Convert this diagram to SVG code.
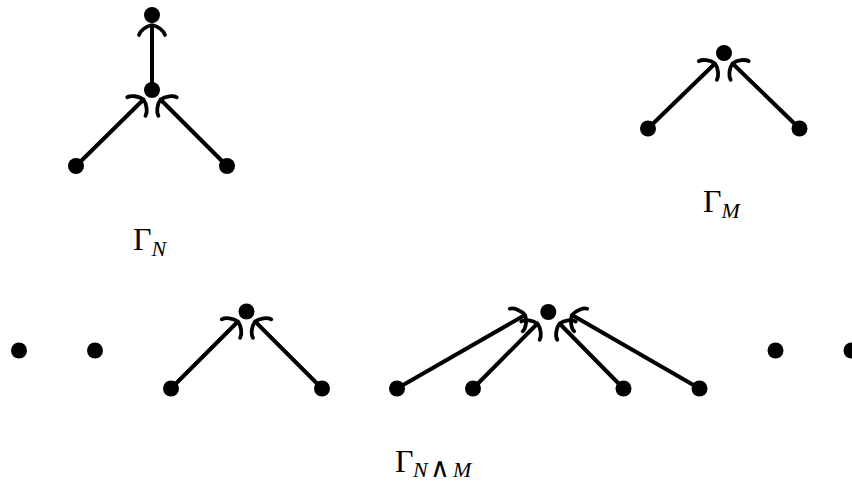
<svg xmlns="http://www.w3.org/2000/svg" width="852" height="483" viewBox="0 0 852 483">
<style>
.dot{fill:#000}
.edge{stroke:#000;stroke-width:4;fill:none;marker-end:url(#to)}
.lbl{font-family:"Liberation Serif","Times New Roman",serif;font-size:32px;fill:#000}
.sub{font-size:22px;font-style:italic}
.op{font-family:"DejaVu Serif",serif;font-size:27px;font-weight:normal;font-style:normal}
</style>
<defs>
<marker id="to" markerUnits="userSpaceOnUse" orient="auto" refX="0" refY="0" markerWidth="30" markerHeight="30" overflow="visible">
<path d="M -10,-13 C -6,-12 -1,-6 0,0 C -1,6 -6,12 -10,13" fill="none" stroke="#000" stroke-width="3.8" stroke-linecap="round"/>
</marker>
</defs>
<rect width="852" height="483" fill="#fff"/>
<g id="connectors">
<line class="edge" x1="152" y1="90" x2="152" y2="25"/>
<line class="edge" x1="76" y1="166" x2="143.5" y2="99.5"/>
<line class="edge" x1="227" y1="166" x2="160.5" y2="99.5"/>
<line class="edge" x1="648" y1="128.5" x2="715" y2="63.5"/>
<line class="edge" x1="799.5" y1="128.5" x2="732.5" y2="63.5"/>
<line class="edge" x1="171" y1="388.5" x2="238" y2="321.5"/>
<line class="edge" x1="322" y1="388.5" x2="255" y2="321.5"/>
<line class="edge" x1="397" y1="388.5" x2="525" y2="315"/>
<line class="edge" x1="473" y1="388.5" x2="537.5" y2="323.5"/>
<line class="edge" x1="623.5" y1="388.5" x2="559.5" y2="323.5"/>
<line class="edge" x1="699.5" y1="388.5" x2="572" y2="315"/>
</g>
<g id="gN-top"><circle class="dot" cx="152" cy="15" r="8"/></g>
<g id="gN-mid"><circle class="dot" cx="152" cy="90" r="8"/></g>
<g id="gN-left"><circle class="dot" cx="76" cy="166" r="8"/></g>
<g id="gN-right"><circle class="dot" cx="227" cy="166" r="8"/></g>
<g id="gM-top"><circle class="dot" cx="724" cy="53" r="8"/></g>
<g id="gM-left"><circle class="dot" cx="648" cy="128.5" r="8"/></g>
<g id="gM-right"><circle class="dot" cx="799.5" cy="128.5" r="8"/></g>
<g id="b-iso1"><circle class="dot" cx="19" cy="350.5" r="8"/></g>
<g id="b-iso2"><circle class="dot" cx="95" cy="350.5" r="8"/></g>
<g id="b1-top"><circle class="dot" cx="246.5" cy="311.5" r="8"/></g>
<g id="b1-left"><circle class="dot" cx="171" cy="388.5" r="8"/></g>
<g id="b1-right"><circle class="dot" cx="322" cy="388.5" r="8"/></g>
<g id="b2-top"><circle class="dot" cx="548.3" cy="312" r="8"/></g>
<g id="b2-s1"><circle class="dot" cx="397" cy="388.5" r="8"/></g>
<g id="b2-s2"><circle class="dot" cx="473" cy="388.5" r="8"/></g>
<g id="b2-s3"><circle class="dot" cx="623.5" cy="388.5" r="8"/></g>
<g id="b2-s4"><circle class="dot" cx="699.5" cy="388.5" r="8"/></g>
<g id="b-iso3"><circle class="dot" cx="775.5" cy="350.5" r="8"/></g>
<g id="b-iso4"><circle class="dot" cx="851.5" cy="350.5" r="8"/></g>
<g id="label-N"><text class="lbl" x="133" y="249.5">Γ<tspan class="sub" dy="6">N</tspan></text></g>
<g id="label-M"><text class="lbl" x="703" y="211.7">Γ<tspan class="sub" dy="6">M</tspan></text></g>
<g id="label-NM"><text class="lbl" x="395" y="471.7">Γ<tspan class="sub" x="413" dy="5">N</tspan><tspan class="op" x="430">∧</tspan><tspan class="sub" x="453">M</tspan></text></g>
</svg>
